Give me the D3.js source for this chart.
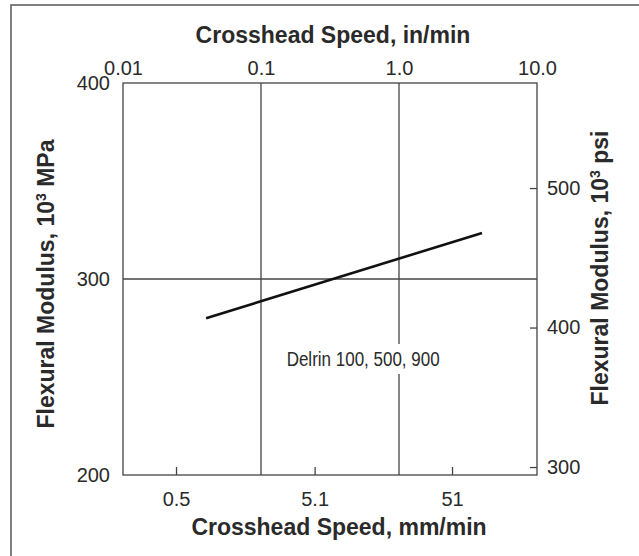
<!DOCTYPE html>
<html>
<head>
<meta charset="utf-8">
<script src="https://cdn.jsdelivr.net/npm/d3@7"></script>
<style>
  body { margin: 0; background: #fff; }
  svg { display: block; }
</style>
</head>
<body>
<div id="chart"></div>
<script>
const width = 639;
const height = 556;

const margin = { top: 83, left: 123, bottom: 81, right: 102 };
const plotW = width - margin.left - margin.right;   // 414
const plotH = height - margin.top - margin.bottom;  // 392

// data
const speedInMin = [0.04, 4.0];
const modulusMPa = [280, 323.5];
const seriesLabel = "Delrin 100, 500, 900";

// axes
const topTicks = [0.01, 0.1, 1.0, 10.0];
const topTickLabels = ["0.01", "0.1", "1.0", "10.0"];
const bottomTicks = [0.5, 5.1, 51];
const bottomTickLabels = ["0.5", "5.1", "51"];
const leftTicks = [200, 300, 400];
const rightTicks = [300, 400, 500];
const gridX = [0.1, 1.0];
const gridY = [300];

const fontFamily = "'Liberation Sans', Arial, Helvetica, sans-serif";
const ink = "#2a2a2a";

const xScale = d3.scaleLog().domain([0.01, 10]).range([0, plotW]);
const xMmScale = d3.scaleLog().domain([0.2056, 211.8]).range([0, plotW]);
const yScale = d3.scaleLinear().domain([200, 400]).range([plotH, 0]);
const yPsiScale = d3.scaleLinear().domain([294.3, 575.3]).range([plotH, 0]);

const svg = d3.select("#chart").append("svg")
    .attr("width", width).attr("height", height);

// page frame (left and top only)
svg.append("path")
    .attr("d", `M11,${height} V5 H${width}`)
    .attr("fill", "none")
    .attr("stroke", "#555")
    .attr("stroke-width", 1.5);

const g = svg.append("g").attr("transform", `translate(${margin.left},${margin.top})`);

// grid lines
g.selectAll(".gx").data(gridX).join("line")
    .attr("x1", d => xScale(d)).attr("x2", d => xScale(d))
    .attr("y1", 0).attr("y2", plotH)
    .attr("stroke", "#444").attr("stroke-width", 1.3);

g.selectAll(".gy").data(gridY).join("line")
    .attr("x1", 0).attr("x2", plotW)
    .attr("y1", d => yScale(d)).attr("y2", d => yScale(d))
    .attr("stroke", "#444").attr("stroke-width", 1.3);

// frame of plot
g.append("rect")
    .attr("width", plotW).attr("height", plotH)
    .attr("fill", "none").attr("stroke", "#444").attr("stroke-width", 1.3);

function styleAxis(sel) {
    sel.select(".domain").remove();
    sel.selectAll("line").attr("stroke", "#444").attr("stroke-width", 1.3);
    sel.selectAll("text")
        .attr("fill", ink)
        .style("font-family", fontFamily)
        .style("font-size", "20px");
}

// top axis, in/min
g.append("g")
    .call(d3.axisTop(xScale).tickValues(topTicks)
        .tickFormat((d, i) => topTickLabels[i]).tickSize(0).tickPadding(8))
    .call(styleAxis);

// bottom axis, mm/min
g.append("g")
    .attr("transform", `translate(0,${plotH})`)
    .call(d3.axisBottom(xMmScale).tickValues(bottomTicks)
        .tickFormat((d, i) => bottomTickLabels[i]).tickSize(-8).tickPadding(17))
    .call(styleAxis);

// left axis, MPa
g.append("g")
    .call(d3.axisLeft(yScale).tickValues(leftTicks).tickSize(0).tickPadding(13))
    .call(styleAxis);

// right axis, psi
g.append("g")
    .attr("transform", `translate(${plotW},0)`)
    .call(d3.axisRight(yPsiScale).tickValues(rightTicks).tickSize(-7).tickPadding(10))
    .call(styleAxis);

// series label with white backing (condensed type in the original)
const labelG = g.append("g");
const label = labelG.append("text")
    .attr("x", xScale(0.55)).attr("y", 283)
    .attr("text-anchor", "middle")
    .attr("fill", ink)
    .attr("textLength", 153)
    .attr("lengthAdjust", "spacingAndGlyphs")
    .style("font-family", fontFamily)
    .style("font-size", "20px")
    .text(seriesLabel);
const bb = label.node().getBBox();
labelG.insert("rect", "text")
    .attr("x", bb.x - 3).attr("y", bb.y - 4)
    .attr("width", bb.width + 6).attr("height", bb.height + 8)
    .attr("fill", "#fff");

// data line
const line = d3.line()
    .x(d => xScale(d[0]))
    .y(d => yScale(d[1]));

g.append("path")
    .datum(d3.zip(speedInMin, modulusMPa))
    .attr("fill", "none")
    .attr("stroke", "#111")
    .attr("stroke-width", 2.6)
    .attr("d", line);

// axis titles
const titleStyle = sel => sel
    .attr("fill", ink)
    .style("font-family", fontFamily)
    .style("font-size", "23px")
    .style("font-weight", "700")
    .attr("text-anchor", "middle");

svg.append("text").attr("x", 333).attr("y", 43)
    .call(titleStyle).text("Crosshead Speed, in/min");

svg.append("text").attr("x", 339).attr("y", 535)
    .call(titleStyle).text("Crosshead Speed, mm/min");

const leftTitle = svg.append("text")
    .attr("transform", "translate(54,284) rotate(-90)")
    .call(titleStyle);
leftTitle.append("tspan").text("Flexural Modulus, 10");
leftTitle.append("tspan").attr("dy", -8).style("font-size", "14px").text("3");
leftTitle.append("tspan").attr("dy", 8).text(" MPa");

const rightTitle = svg.append("text")
    .attr("transform", "translate(608,268) rotate(-90)")
    .call(titleStyle);
rightTitle.append("tspan").text("Flexural Modulus, 10");
rightTitle.append("tspan").attr("dy", -8).style("font-size", "14px").text("3");
rightTitle.append("tspan").attr("dy", 8).text(" psi");
</script>
</body>
</html>
